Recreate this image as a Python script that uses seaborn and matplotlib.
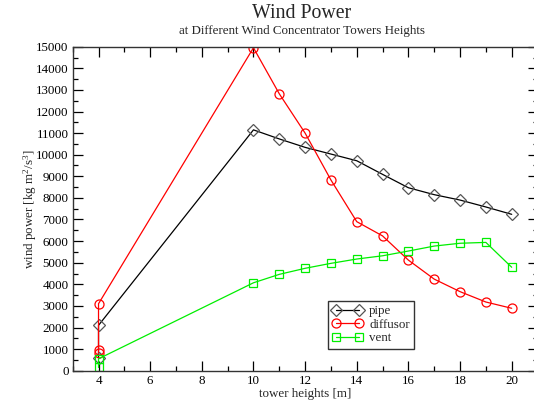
import matplotlib
matplotlib.use("Agg")
import matplotlib.pyplot as plt
import seaborn as sns
import pandas as pd
from matplotlib.ticker import MultipleLocator

# ---- data ----
heights = [4, 4, 10, 11, 12, 13, 14, 15, 16, 17, 18, 19, 20]
pipe = [600, 2100, 11150, 10730, 10340, 10030, 9720, 9090, 8470, 8150, 7900, 7580, 7240]

diff_heights = [4, 4, 4, 10, 11, 12, 13, 14, 15, 16, 17, 18, 19, 20]
diffusor = [830, 960, 3100, 14950, 12820, 11000, 8830, 6900, 6240, 5120, 4240, 3660, 3180, 2890]

vent = [150, 550, 4070, 4460, 4740, 4970, 5170, 5320, 5540, 5770, 5900, 5940, 4790]

series_names = ["pipe", "diffusor", "vent"]
x_label = "tower heights [m]"
y_label = "wind power [kg m$^{2}$/s$^{3}$]"
title = "Wind Power"
subtitle = "at Different Wind Concentrator Towers Heights"

sns.set_style("ticks")
plt.rcParams["font.family"] = ["Liberation Serif", "DejaVu Serif"]
plt.rcParams["mathtext.fontset"] = "custom"
plt.rcParams["mathtext.rm"] = "Liberation Serif"
plt.rcParams["mathtext.it"] = "Liberation Serif"

FS = 9.4

fig = plt.figure(figsize=(5.34, 4.04), dpi=100)
ax = fig.add_axes([72.7 / 534, 33.3 / 404, (537.5 - 72.7) / 534, 324 / 404])

df_pipe = pd.DataFrame({"x": heights, "y": pipe})
df_diff = pd.DataFrame({"x": diff_heights, "y": diffusor})
df_vent = pd.DataFrame({"x": heights, "y": vent})

common = dict(estimator=None, sort=False, linewidth=0.9,
              fillstyle="none", markeredgewidth=0.9, ax=ax)
sns.lineplot(data=df_pipe, x="x", y="y", color="black", marker="D",
             markeredgecolor="#555555", label=series_names[0],
             markersize=6, **common)
sns.lineplot(data=df_diff, x="x", y="y", color="#ff0000", marker="o",
             markeredgecolor="#ff0000", label=series_names[1],
             markersize=6.5, **common)
sns.lineplot(data=df_vent, x="x", y="y", color="#00ee00", marker="s",
             markeredgecolor="#00ee00", label=series_names[2],
             markersize=5.8, **common)

ax.set_xlim(3, 21)
ax.set_ylim(0, 15000)
ax.xaxis.set_major_locator(MultipleLocator(2))
ax.xaxis.set_minor_locator(MultipleLocator(1))
ax.yaxis.set_major_locator(MultipleLocator(1000))
ax.yaxis.set_minor_locator(MultipleLocator(500))
ax.tick_params(which="both", direction="in", top=True, right=True,
               labelsize=FS, colors="black", width=0.9, pad=3)
ax.tick_params(which="major", length=7)
ax.tick_params(which="minor", length=3.5)
for s in ax.spines.values():
    s.set_linewidth(1.0)
    s.set_color("#333333")

ax.set_xlabel(x_label, fontsize=FS, labelpad=1)
ax.set_ylabel(y_label, fontsize=FS, labelpad=-2)

fig.text(302 / 534, 1 - 18 / 404, title, ha="center", va="baseline", fontsize=14.3)
fig.text(302 / 534, 1 - 34 / 404, subtitle, ha="center", va="baseline", fontsize=9.4)

leg = ax.legend(loc="upper left", bbox_to_anchor=(0.549, 0.216), borderaxespad=0,
                numpoints=2, fontsize=FS, fancybox=False, framealpha=1,
                edgecolor="#333333", handlelength=2.3, handletextpad=0.5,
                labelspacing=0.1, borderpad=0.35)
leg.get_frame().set_linewidth(1.0)

fig.savefig("out.png", dpi=100)
